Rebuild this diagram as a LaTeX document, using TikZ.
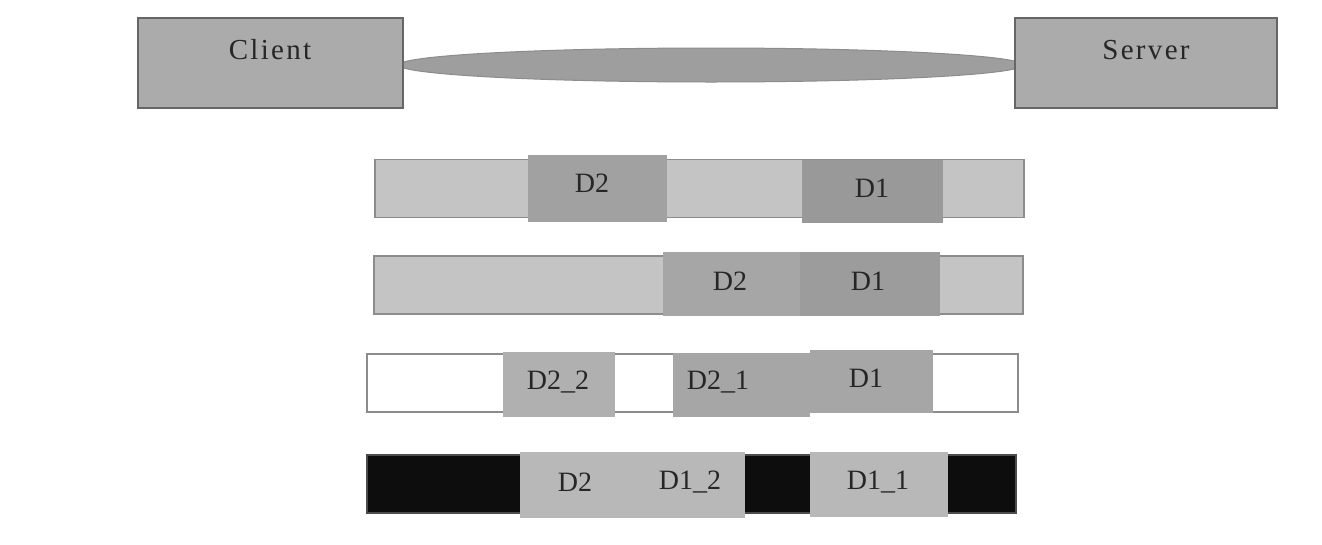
\documentclass[tikz,border=0pt]{standalone}
\usepackage{fontspec}
\usetikzlibrary{shapes.geometric}
\setmainfont{Liberation Serif}
\newfontfamily\spaced[LetterSpace=8]{Liberation Serif}
\begin{document}
\begin{tikzpicture}[x=1pt,y=-1pt,
  every node/.style={inner sep=0pt, outer sep=0pt},
  endbox/.style={draw=gray!80!black, line width=1.5pt, fill=black!33, minimum height=90pt},
  barbox/.style={draw=black!45, line width=1.8pt, minimum height=58pt},
  blk/.style={fill=#1, minimum height=64pt},
  lab/.style={font=\fontsize{28}{28}\selectfont, text=black!85},
  endlab/.style={font=\spaced\fontsize{29}{29}\selectfont, text=black!85}]
\useasboundingbox (0,0) rectangle (1322,544);
% top
\node[ellipse, draw=black!45, fill=black!38, line width=1pt, minimum width=624pt, minimum height=34pt] (pipe) at (711,65) {};
\node[endbox, minimum width=265pt] (client) at (270.5,63) {};
\node[endbox, minimum width=262pt] (server) at (1146,63) {};
\node[endlab] (clientlab) at (270,50) {Client};
\node[endlab] (serverlab) at (1146,50) {Server};
% row 1
\node[barbox, fill=black!23, minimum width=649pt] (bar1) at (699.5,188.5) {};
\node[blk=black!37, minimum width=139pt, minimum height=67pt] (r1d2) at (597.5,188.5) {};
\node[blk=black!40, minimum width=141pt, minimum height=63pt] (r1d1) at (872.5,191.5) {};
\node[lab] at (592,183) {D2};
\node[lab] at (872,188) {D1};
% row 2
\node[barbox, fill=black!23, minimum width=649pt] (bar2) at (698.5,285) {};
\node[blk=black!35, minimum width=137pt] (r2d2) at (731.5,284) {};
\node[blk=black!39, minimum width=140pt] (r2d1) at (870,284) {};
\node[lab] at (730,281) {D2};
\node[lab] at (868,281) {D1};
% row 3
\node[barbox, fill=white, minimum width=651pt] (bar3) at (692.5,383) {};
\node[blk=black!31, minimum width=112pt, minimum height=65pt] (r3d22) at (559,384.5) {};
\node[blk=black!35, minimum width=137pt] (r3d21) at (741.5,385) {};
\node[blk=black!35, minimum width=123pt, minimum height=63pt] (r3d1) at (871.5,381.5) {};
\node[lab] at (558,382) {D2\_2};
\node[lab] at (718,382) {D2\_1};
\node[lab] at (866,378) {D1};
% row 4
\node[barbox, fill=black!95, draw=black!70, minimum width=649pt] (bar4) at (691.5,484) {};
\node[blk=black!28, minimum width=225pt, minimum height=66pt] (r4d2) at (632.5,485) {};
\node[blk=black!28, minimum width=138pt, minimum height=65pt] (r4d11) at (879,484.5) {};
\node[lab] at (575,482) {D2};
\node[lab] at (690,482) {D1\_2};
\node[lab] at (878,482) {D1\_1};
\end{tikzpicture}
\end{document}
